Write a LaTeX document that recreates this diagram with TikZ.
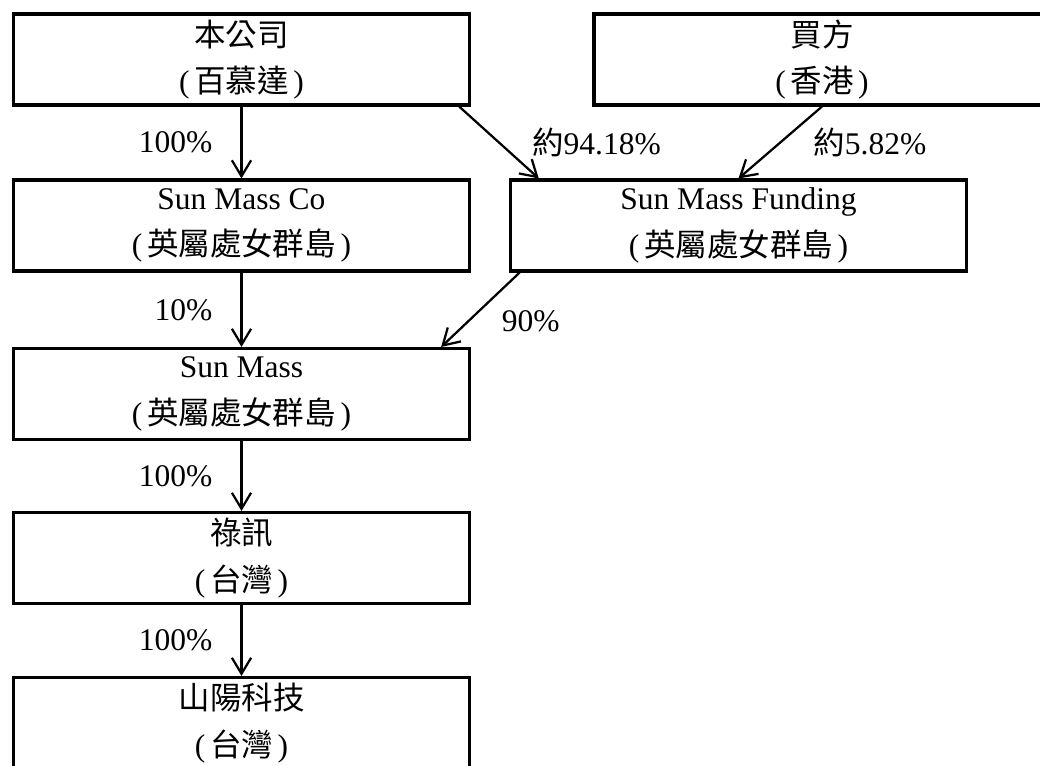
\documentclass[tikz,border=0pt]{standalone}
\usepackage{fontspec}
\setmainfont{Liberation Serif}
\newfontfamily\cjk{Noto Sans CJK TC}
\newcommand{\place}[1]{(\hspace{0.15em}{\cjk #1}\hspace{0.15em})}
\usetikzlibrary{positioning,arrows.meta}

\begin{document}
\begin{tikzpicture}[x=0.025cm,y=-0.025cm,
    entity/.style={draw,line width=2.3pt,minimum width=11.4cm,minimum height=2.27cm,
        align=center,font=\fontsize{22.4}{33}\selectfont},
    own/.style={line width=1.6pt,-{Straight Barb[length=4mm,width=4.8mm]}},
    pct/.style={inner sep=0pt,font=\fontsize{22.4}{32}\selectfont}]
	\useasboundingbox (0,0) rectangle (1040,765);
	\clip (0,0) rectangle (1040,765);
	% companies
	\node[entity] (co) at (241.5,59.5) {{\cjk 本公司}\\\place{百慕達}};
	\node[entity] (buyer) at (822,59.5) {{\cjk 買方}\\\place{香港}};
	\node[entity] (smco) at (241.5,225.5) {Sun Mass Co\\\place{英屬處女群島}};
	\node[entity] (fund) at (738.5,225.5) {Sun Mass Funding\\\place{英屬處女群島}};
	\node[entity] (sm) at (241.5,394) {Sun Mass\\\place{英屬處女群島}};
	\node[entity] (lx) at (241.5,558) {{\cjk 祿訊}\\\place{台灣}};
	\node[entity] (sy) at (241.5,723) {{\cjk 山陽科技}\\\place{台灣}};
	% holdings
	\draw[own] (co) -- (smco) node[pct,midway,left=0.7cm] {100\%};
	\draw[own] ([xshift=-0.3cm]co.south east) -- ([xshift=0.75cm]fund.north west)
	    node[pct,midway,right=0.8cm] {{\cjk 約}94.18\%};
	\draw[own] (buyer.south) -- (fund.north) node[pct,midway,right=0.8cm] {{\cjk 約}5.82\%};
	\draw[own] (smco) -- (sm) node[pct,midway,left=0.7cm] {10\%};
	\draw[own] ([xshift=0.27cm]fund.south west) -- ([xshift=-0.75cm]sm.north east)
	    node[pct,pos=0.65,right=0.8cm] {90\%};
	\draw[own] (sm) -- (lx) node[pct,midway,left=0.7cm] {100\%};
	\draw[own] (lx) -- (sy) node[pct,midway,left=0.7cm] {100\%};
\end{tikzpicture}
\end{document}
